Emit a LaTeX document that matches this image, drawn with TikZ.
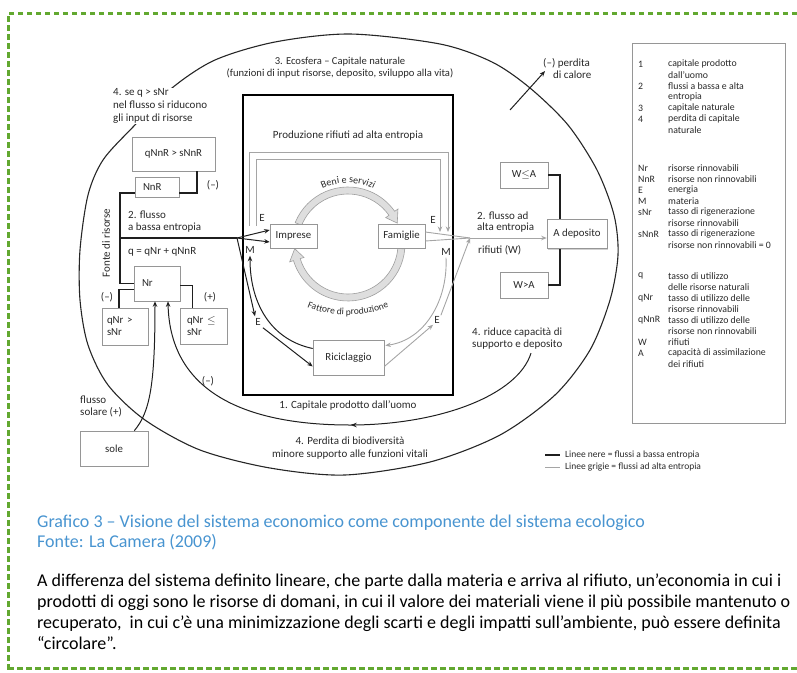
\documentclass[tikz,border=0pt]{standalone}
\usepackage{fontspec}
\setmainfont{Carlito}
\usetikzlibrary{arrows.meta,decorations.text,decorations.markings,calc,shadows}
\definecolor{frgreen}{RGB}{98,168,48}
\definecolor{capblue}{RGB}{72,148,208}
\definecolor{txt}{RGB}{40,40,40}
\definecolor{lgray}{RGB}{165,165,165}
\definecolor{bxgray}{RGB}{150,150,150}
\definecolor{ringfill}{RGB}{222,222,222}
\begin{document}
\begin{tikzpicture}[x=1pt,y=-1pt,
  lbl/.style={font=\fontsize{11}{12.5}\selectfont, text=txt, inner sep=0pt},
  lblw/.style={lbl, anchor=west, align=left},
  bx/.style={draw=bxgray, line width=0.6pt, fill=white, inner sep=0pt,
     font=\fontsize{10.8}{12}\selectfont, text=txt,
     drop shadow={shadow xshift=1.2pt, shadow yshift=-1.2pt, fill=black, opacity=0.18}},
  blk/.style={line width=1.7pt, black!88},
  blkarr/.style={line width=1pt, black!88, -{Stealth[length=5.5pt,width=4.5pt]}},
  grline/.style={line width=0.9pt, lgray},
  grarr/.style={line width=0.9pt, lgray, -{Stealth[length=5.5pt,width=4.5pt]}},
  legt/.style={font=\fontsize{9.8}{11}\selectfont, text=txt, anchor=west, inner sep=0pt},
  ringsh/.style={draw=gray!75, fill=ringfill, line width=0.6pt},
]
\useasboundingbox (0,0) rectangle (797,672);

% green dashed frame
\draw[frgreen, line width=3pt, dash pattern=on 5.5pt off 3.5pt] (797,13) -- (8,13) -- (8,672);
\draw[frgreen, line width=3pt, dash pattern=on 5.5pt off 3.5pt] (8,668) -- (797,668);

% outer ecosphere
\draw[line width=1.1pt, black!85] plot[smooth cycle] coordinates {
 (350,34) (440,44) (492,62) (530,88) (568,125) (597,170) (614,215) (618,255)
 (610,300) (590,350) (555,395) (500,435) (430,462) (345,475) (270,468) (200,450)
 (145,420) (108,385) (88,345) (80,300) (80,250) (88,195) (103,160) (133,127)
 (172,88) (215,60) (275,42)};

% big rectangle
\node[draw, line width=1.8pt, minimum width=210, minimum height=300, inner sep=0pt] (rect) at (348,245) {};

% gray U frame
\draw[grarr] (249,226) -- (249,152) -- (448,152) -- (448,232);
\draw[grarr] (256,226) -- (256,159) -- (440,159) -- (440,232);

% ring
\coordinate (C) at (348,244);
\coordinate (C2) at (348,205);
\filldraw[ringsh] ($(C)+(202:57)$) arc[start angle=202, end angle=325, radius=57]
  -- ($(C)+(325:61)$) -- ($(C)+(337:53.5)$) -- ($(C)+(325:46)$) -- ($(C)+(325:50)$)
  arc[start angle=325, end angle=202, radius=50] -- cycle;
\filldraw[ringsh] ($(C)+(5:57)$) arc[start angle=5, end angle=163, radius=57]
  -- ($(C)+(163:61)$) -- ($(C)+(175:53.5)$) -- ($(C)+(163:46)$) -- ($(C)+(163:50)$)
  arc[start angle=163, end angle=5, radius=50] -- cycle;
\path[decorate, decoration={text along path, text={|\fontsize{10}{11}\selectfont|Beni e servizi}, text align=center, text color=txt}]
  ($(C)+(225:61)$) arc[start angle=225, end angle=315, radius=61];
\path[decorate, decoration={text along path, text={|\fontsize{9.5}{11}\selectfont|Fattore di produzione}, text align=center, text color=txt}]
  ($(C2)+(122:110)$) arc[start angle=122, end angle=58, radius=110];

% boxes
\node[bx, minimum width=83, minimum height=34] (qnnr) at (173.5,154) {qNnR > sNnR};
\node[bx, minimum width=44, minimum height=20, text width=28, align=left] (nnr) at (157,187) {NnR};
\node[bx, minimum width=46, minimum height=35, text width=30, align=left] (nr) at (157,283.5) {Nr};
\node[bx, minimum width=46, minimum height=37, text width=36, align=left] (qnrg) at (125,326.5) {qNr >\\sNr};
\node[bx, minimum width=47, minimum height=36, text width=33, align=left] (qnrl) at (203.5,326) {qNr $\le$\\sNr};
\node[bx, minimum width=68, minimum height=35] (sole) at (114,448.5) {sole};
\node[bx, minimum width=47, minimum height=24] (imp) at (293.5,236) {Imprese};
\node[bx, minimum width=47, minimum height=24] (fam) at (401.5,236) {Famiglie};
\node[bx, minimum width=71, minimum height=35] (ric) at (348.5,357.5) {Riciclaggio};
\node[bx, minimum width=48, minimum height=26] (wle) at (524,175) {W$\le$A};
\node[bx, minimum width=60, minimum height=29] (adep) at (577,234) {A deposito};
\node[bx, minimum width=48, minimum height=26] (wgt) at (524,285) {W>A};

% labels
\node[lbl, align=center, font=\fontsize{10.6}{12}\selectfont] (eco) at (340,68) {3. Ecosfera – Capitale naturale\\(funzioni di input risorse, deposito, sviluppo alla vita)};
\node[lbl] (prodl) at (348,136) {Produzione rifiuti ad alta entropia};
\node[lbl] (capl) at (348,406) {1. Capitale prodotto dall’uomo};
\node[lbl, align=center, font=\fontsize{11}{13}\selectfont] (perdl) at (350,448.5) {4. Perdita di biodiversità\\minore supporto alle funzioni vitali};
\node[lblw, fill=white, inner sep=1pt, font=\fontsize{11}{13}\selectfont] (seq) at (112,106) {4. se q > sNr\\nel flusso si riducono\\gli input di risorse};
\node[lblw, font=\fontsize{11}{12}\selectfont] (fl2) at (128,222) {2. flusso\\a bassa entropia};
\node[lblw] (qeq) at (128,252) {q = qNr + qNnR};
\node[lbl, rotate=90] (fonte) at (106,243) {Fonte di risorse};
\node[lbl] (mn1) at (213,185) {(–)};
\node[lbl] (mn2) at (107,297) {(–)};
\node[lbl] (pl1) at (210,297) {(+)};
\node[lbl] (mn3) at (208,381) {(–)};
\node[lblw, font=\fontsize{11}{12}\selectfont] (fsol) at (80,406) {flusso\\solare (+)};
\node[lblw, font=\fontsize{11}{11.5}\selectfont] (fl2r) at (477,222) {2. flusso ad\\alta entropia};
\node[lblw] (rif) at (478,250) {rifiuti (W)};
\node[lblw, font=\fontsize{11}{11.5}\selectfont] (riduce) at (472,338.5) {4. riduce capacità di\\supporto e deposito};
\node[lblw] (calore1) at (543,63) {(–) perdita};
\node[lblw] (calore2) at (553,75) {di calore};
\node[lbl] (eL1) at (262,218) {E};
\node[lbl] (mL) at (250,250) {M};
\node[lbl] (eL2) at (258,322) {E};
\node[lbl] (eR1) at (433,220) {E};
\node[lbl] (mR) at (446,252) {M};
\node[lbl] (eR2) at (437,320) {E};

% black connectors
\coordinate (fonteJ) at (120,238);
\coordinate (J) at (237,238);
\coordinate (J2) at (470,238);
\coordinate (calS) at (510,110);
\draw[blk] ($(qnnr.south east)+(-18,0)$) |- ($(nnr.east)+(0,6)$);
\draw[blk] ($(nnr.west)+(0,6)$) -| (fonteJ) |- (nr.west);
\draw[blk] (fonteJ) -- (J);
\draw[blkarr] (J) -- ($(imp.west)+(0,-6)$);
\draw[blkarr] (J) -- ($(imp.west)+(0,6)$);
\draw[blkarr] (J) -- ($(eL2.north)+(-3,-2)$);
\draw[blkarr] ($(eL2.south east)+(2,2)$) -- ($(ric.west)+(0,9)$);
\draw[blkarr] ($(ric.west)+(0,-9)$) .. controls (272,340) and (250,305) .. ($(mL.south)+(0,2)$);
\draw[blk] ($(nr.west)+(0,6)$) -| ($(qnrg.north)+(-6,0)$);
\draw[blk] ($(nr.east)+(0,2)$) -| ($(qnrl.north)+(-11,0)$);
\draw[blkarr] ($(sole.north east)+(-14,0)$) .. controls (150,412) and (155,385) .. ($(nr.south)+(-2,0)$);
\draw[blkarr, postaction={decorate, decoration={markings, mark=at position 0.45 with {\arrow{Stealth[length=6pt,width=4.5pt]}}}}]
  ($(riduce.south west)+(59,4)$) .. controls (518,395) and (440,425) .. (350,425)
  .. controls (250,425) and (170,395) .. ($(nr.south)+(11,0)$);
\draw[blk] (wle.east) -| ($(adep.north west)+(13,0)$);
\draw[blk] (wgt.east) -| ($(adep.south west)+(13,0)$);
\draw[line width=1pt, black!88, -{Stealth[length=5.5pt,width=4.5pt]}] (calS) -- ($(calore1.south west)+(2,3)$);

% gray connectors
\draw[grline] ($(fam.east)+(0,-4)$) -- (J2);
\draw[grline] ($(fam.east)+(0,5)$) -- (J2);
\draw[grarr] (J2) -- (J2 -| adep.west);
\draw[grarr] ($(eR2.north east)+(1,-1)$) -- (J2);
\draw[grarr] ($(ric.east)+(0,9)$) -- ($(eR2.south west)+(-1,1)$);
\draw[grarr] ($(mR.south)+(0,2)$) .. controls (448,300) and (425,340) .. ($(ric.east)+(1,-12)$);

% legend box
\node[draw=bxgray, line width=0.6pt, minimum width=153, minimum height=380, inner sep=0pt] (legbox) at (708.5,233) {};
\foreach \yy/\aa/\bb [count=\i] in {
  64/1/capitale prodotto, 75//dall’uomo, 86/2/flussi a bassa e alta, 97//entropia,
  108/3/capitale naturale, 119/4/perdita di capitale, 130//naturale,
  168/Nr/risorse rinnovabili, 179/NnR/risorse non rinnovabili, 190/E/energia,
  201/M/materia, 212/sNr/tasso di rigenerazione, 223//risorse rinnovabili,
  234/sNnR/tasso di rigenerazione, 245//risorse non rinnovabili = 0,
  276/q/tasso di utilizzo, 287//delle risorse naturali, 298/qNr/tasso di utilizzo delle,
  309//risorse rinnovabili, 320/qNnR/tasso di utilizzo delle, 331//risorse non rinnovabili,
  342/W/rifiuti, 353/A/capacità di assimilazione, 364//dei rifiuti}
{
  \node[legt] (la\i) at (638,\yy) {\aa};
  \node[legt] (lb\i) at (668,\yy) {\bb};
}
\coordinate (lnA) at (545,455);
\coordinate (lnB) at (545,467);
\draw[line width=2pt, black!88] (lnA) -- ++(15,0);
\draw[line width=1pt, lgray] (lnB) -- ++(15,0);
\node[legt, font=\fontsize{9.5}{11}\selectfont] (ln1) at (565,455) {Linee nere = flussi a bassa entropia};
\node[legt, font=\fontsize{9.5}{11}\selectfont] (ln2) at (565,467) {Linee grigie = flussi ad alta entropia};

% caption
\node[anchor=base west, inner sep=0pt, font=\fontsize{18}{20}\selectfont, text=capblue] (cap1) at (37,527)
  {Grafico 3 – Visione del sistema economico come componente del sistema ecologico};
\node[anchor=base west, inner sep=0pt, font=\fontsize{18}{20}\selectfont, text=capblue] (cap2) at (37,547)
  {Fonte: La Camera (2009)};
\node[anchor=base west, inner sep=0pt, font=\fontsize{18}{21}\selectfont] (p1) at (37,586)
  {A differenza del sistema definito lineare, che parte dalla materia e arriva al rifiuto, un’economia in cui i};
\node[anchor=base west, inner sep=0pt, font=\fontsize{18}{21}\selectfont] (p2) at (37,607)
  {prodotti di oggi sono le risorse di domani, in cui il valore dei materiali viene il più possibile mantenuto o};
\node[anchor=base west, inner sep=0pt, font=\fontsize{18}{21}\selectfont] (p3) at (37,628)
  {recuperato,\ \ in cui c’è una minimizzazione degli scarti e degli impatti sull’ambiente, può essere definita};
\node[anchor=base west, inner sep=0pt, font=\fontsize{18}{21}\selectfont] (p4) at (37,649)
  {“circolare”.};
\end{tikzpicture}
\end{document}
